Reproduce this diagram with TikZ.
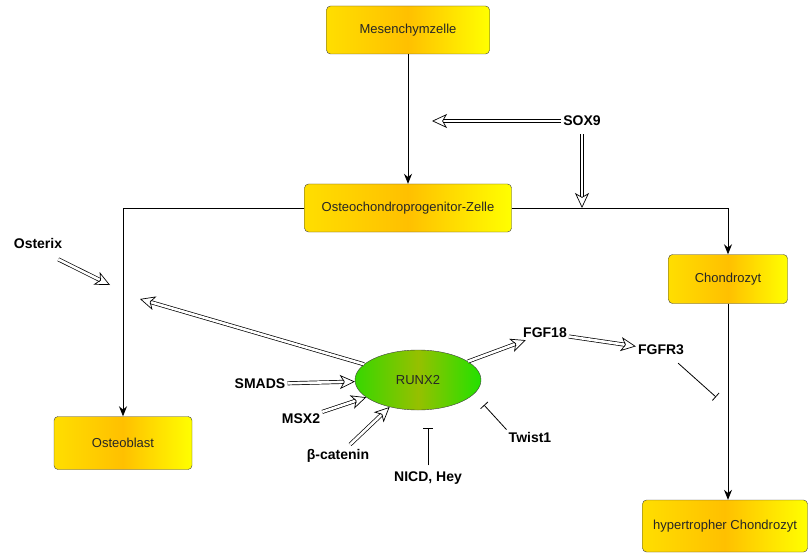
\documentclass[tikz,border=0pt]{standalone}
\usepackage{fontspec}
\setmainfont{Liberation Sans}
\usetikzlibrary{shapes.geometric, arrows.meta}
\definecolor{cellleft}{RGB}{255,222,0}
\definecolor{cellmid}{RGB}{255,192,0}
\definecolor{cellright}{RGB}{255,255,0}
\definecolor{runxleft}{RGB}{55,215,0}
\definecolor{runxmid}{RGB}{150,192,0}
\definecolor{runxright}{RGB}{35,225,0}
\tikzstyle{cell} = [rectangle, rounded corners=4pt, minimum width=160pt, minimum height=48pt, text centered, draw=black!75, left color=cellleft, right color=cellright, middle color=cellmid, text=black!85, font=\fontsize{13}{15}\selectfont]
\tikzstyle{factor} = [ellipse, minimum width=126pt, minimum height=60pt, draw=black!75, left color=runxleft, right color=runxright, middle color=runxmid, text=black!85, font=\fontsize{13}{15}\selectfont]
\tikzstyle{gene} = [font=\bfseries\fontsize{14}{16}\selectfont, inner sep=2pt]
\tikzstyle{arrow} = [line width=0.8pt, -{Stealth[length=10pt,width=8pt]}]
\tikzstyle{dblarrow} = [double, double distance=2.6pt, line width=0.7pt, -{Stealth[open,length=15pt,width=14pt,inset=4pt]}]
\tikzstyle{inhibit} = [line width=0.8pt, -{Bar[width=10pt]}]

\begin{document}
\begin{tikzpicture}[x=1pt, y=-1pt]
    \useasboundingbox (0,0) rectangle (810,553);
    \node (mes) [cell, minimum width=163pt] at (408,30) {Mesenchymzelle};
    \node (osteo) [cell, below of=mes, node distance=178pt, minimum width=207pt] {Osteochondroprogenitor-Zelle};
    \node (oblast) [cell, below of=osteo, node distance=235pt, xshift=-285pt, minimum width=138pt, minimum height=53pt] {Osteoblast};
    \node (chondro) [cell, below of=osteo, node distance=71pt, xshift=320pt, minimum width=119pt, minimum height=49pt] {Chondrozyt};
    \node (hyper) [cell, below of=chondro, node distance=247pt, xshift=-3pt, minimum width=165pt, minimum height=52pt] {hypertropher Chondrozyt};
    \node (runx) [factor, below of=osteo, node distance=172pt, xshift=10pt] {RUNX2};

    \node (sox) [gene] at (582,121) {SOX9};
    \node (osterix) [gene] at (38,243) {Osterix};
    \node (fgf18) [gene] at (545,333) {FGF18};
    \node (fgfr3) [gene] at (661,350) {FGFR3};
    \node (smads) [gene] at (260,384) {SMADS};
    \node (msx2) [gene] at (301,419) {MSX2};
    \node (bcat) [gene] at (338,456) {β-catenin};
    \node (nicd) [gene] at (428,478) {NICD, Hey};
    \node (twist) [gene] at (530,437) {Twist1};

    \coordinate (soxL) at (432,121);
    \coordinate (soxD) at (582,208);
    \coordinate (osxT) at (110,285);
    \coordinate (runxL) at (140,299);
    \coordinate (nicdT) at (428,428);
    \coordinate (twistT) at (484,405);
    \coordinate (fgfr3T) at (716,397);

    \draw [arrow] (mes) -- (osteo);
    \draw [arrow] (osteo.west) -| (oblast.north);
    \draw [arrow] (osteo.east) -| (chondro.north);
    \draw [arrow] (chondro) -- (chondro |- hyper.north);

    \draw [dblarrow] (sox.west) -- (soxL);
    \draw [dblarrow, shorten <=6pt] (sox.south) -- (soxD);
    \draw [dblarrow] ([xshift=-6pt,yshift=-9pt]osterix.south east) -- (osxT);
    \draw [dblarrow] (runx) -- (runxL);
    \draw [dblarrow] (runx) -- (fgf18);
    \draw [dblarrow] (fgf18) -- (fgfr3);
    \draw [dblarrow] (smads) -- (runx);
    \draw [dblarrow] (msx2) -- (runx);
    \draw [dblarrow, shorten <=4pt] (bcat) -- (runx);

    \draw [inhibit, shorten <=4pt] (nicd.north) -- (nicdT);
    \draw [inhibit] (twist.north west) -- (twistT);
    \draw [inhibit] ([xshift=-8pt,yshift=-6pt]fgfr3.south east) -- (fgfr3T);
\end{tikzpicture}
\end{document}
